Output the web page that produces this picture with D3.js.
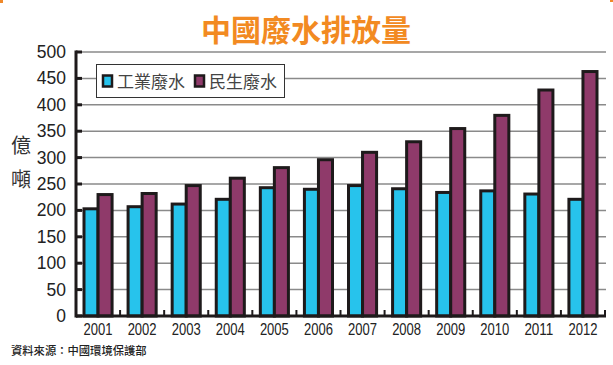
<!DOCTYPE html>
<html>
<head>
<meta charset="utf-8">
<script src="https://cdn.jsdelivr.net/npm/d3@7"></script>
<style>
  body { margin: 0; background: #fff; }
  svg { display: block; }
</style>
</head>
<body>
<div id="chart"></div>
<script>
// data (億噸)
const years = ["2001", "2002", "2003", "2004", "2005", "2006", "2007", "2008", "2009", "2010", "2011", "2012"];
const seriesNames = ["工業廢水", "民生廢水"];
const industrial = [203, 207, 212, 221, 243, 240, 247, 241, 234, 237, 231, 221];
const domestic = [230, 232, 247, 261, 281, 296, 310, 330, 355, 380, 428, 463];
const yTicks = [0, 50, 100, 150, 200, 250, 300, 350, 400, 450, 500];
const colors = ["#27c3ec", "#8f3a6a"];

const width = 613, height = 365;
const plotLeft = 76, plotRight = 605, plotTop = 52, plotBottom = 316;

const svg = d3.select("#chart")
    .append("svg")
    .attr("width", width)
    .attr("height", height);

// corner bits of the orange frame
svg.append("rect").attr("x", 0).attr("y", 0).attr("width", 3).attr("height", 3).attr("fill", "#f0892a");
svg.append("rect").attr("x", 610).attr("y", 0).attr("width", 3).attr("height", 2).attr("fill", "#f0892a");

// title
svg.append("text")
    .attr("x", 306)
    .attr("y", 41)
    .attr("text-anchor", "middle")
    .attr("font-family", "'Noto Sans CJK TC', 'Noto Sans CJK SC', sans-serif")
    .attr("font-weight", "bold")
    .attr("font-size", 30)
    .attr("fill", "#f28a22")
    .text("中國廢水排放量");

const x0 = d3.scaleBand().domain(years).range([plotLeft, plotRight]).padding(0);
const x1 = d3.scaleBand().domain(seriesNames).range([8, x0.bandwidth() - 8]);
const y = d3.scaleLinear().domain([0, 500]).range([plotBottom, plotTop]);

// gridlines
svg.append("g")
    .selectAll("line")
    .data(yTicks.filter(d => d > 0))
    .join("line")
    .attr("x1", plotLeft)
    .attr("x2", plotRight + 1)
    .attr("y1", d => y(d))
    .attr("y2", d => y(d))
    .attr("stroke", "#8a8a8a")
    .attr("stroke-width", 1.5);

// y labels
svg.append("g")
    .selectAll("text")
    .data(yTicks)
    .join("text")
    .attr("x", 66)
    .attr("y", d => y(d) + 6)
    .attr("text-anchor", "end")
    .attr("font-family", "'Liberation Sans', Arial, sans-serif")
    .attr("font-size", 17.5)
    .attr("fill", "#222")
    .text(d => d);

// y ticks (stubs inside)
svg.append("g")
    .selectAll("line")
    .data(yTicks)
    .join("line")
    .attr("x1", plotLeft)
    .attr("x2", plotLeft + 6)
    .attr("y1", d => y(d))
    .attr("y2", d => y(d))
    .attr("stroke", "#1e1a1b")
    .attr("stroke-width", 3);

// bars
const groups = svg.append("g")
    .selectAll("g")
    .data(years)
    .join("g")
    .attr("transform", d => "translate(" + x0(d) + ",0)");

groups.selectAll("rect")
    .data((d, i) => [industrial[i], domestic[i]].map((v, j) => ({ s: seriesNames[j], v: v, j: j })))
    .join("rect")
    .attr("x", d => x1(d.s))
    .attr("y", d => y(d.v))
    .attr("width", x1.bandwidth())
    .attr("height", d => plotBottom - y(d.v))
    .attr("fill", d => colors[d.j])
    .attr("stroke", "#1e1a1b")
    .attr("stroke-width", 3);

// axes lines
svg.append("line")
    .attr("x1", plotLeft).attr("x2", plotLeft)
    .attr("y1", plotTop - 1.5).attr("y2", plotBottom + 1.5)
    .attr("stroke", "#1e1a1b").attr("stroke-width", 3);
svg.append("line")
    .attr("x1", plotLeft).attr("x2", plotRight + 1)
    .attr("y1", plotBottom).attr("y2", plotBottom)
    .attr("stroke", "#1e1a1b").attr("stroke-width", 3);

// x ticks at category boundaries
svg.append("g")
    .selectAll("line")
    .data(years)
    .join("line")
    .attr("x1", d => x0(d) + x0.bandwidth())
    .attr("x2", d => x0(d) + x0.bandwidth())
    .attr("y1", plotBottom)
    .attr("y2", plotBottom - 6)
    .attr("stroke", "#1e1a1b")
    .attr("stroke-width", 2);

// x labels
svg.append("g")
    .selectAll("text")
    .data(years)
    .join("text")
    .attr("x", d => x0(d) + x0.bandwidth() / 2)
    .attr("y", 335)
    .attr("text-anchor", "middle")
    .attr("font-family", "'Liberation Sans', Arial, sans-serif")
    .attr("font-size", 17)
    .attr("fill", "#222")
    .attr("textLength", 29)
    .attr("lengthAdjust", "spacingAndGlyphs")
    .text(d => d);

// y axis title
svg.append("g")
    .selectAll("text")
    .data(["億", "噸"])
    .join("text")
    .attr("x", 21)
    .attr("y", (d, i) => 153 + i * 34)
    .attr("text-anchor", "middle")
    .attr("font-family", "'Noto Sans CJK TC', sans-serif")
    .attr("font-size", 20)
    .attr("fill", "#333")
    .text(d => d);

// legend
const legend = svg.append("g");
legend.append("rect")
    .attr("x", 96.5).attr("y", 64.5)
    .attr("width", 188).attr("height", 33)
    .attr("fill", "#fff")
    .attr("stroke", "#333")
    .attr("stroke-width", 1);
const legendX = [103, 195];
seriesNames.forEach((name, i) => {
    legend.append("rect")
        .attr("x", legendX[i]).attr("y", 75.5)
        .attr("width", 9).attr("height", 11)
        .attr("fill", colors[i])
        .attr("stroke", "#1e1a1b")
        .attr("stroke-width", 2.5);
    legend.append("text")
        .attr("x", legendX[i] + 14)
        .attr("y", 88)
        .attr("font-family", "'Noto Sans CJK TC', sans-serif")
        .attr("font-size", 17)
        .attr("fill", "#444")
        .text(name);
});

// source
svg.append("text")
    .attr("x", 11)
    .attr("y", 355)
    .attr("font-family", "'Noto Sans CJK TC', sans-serif")
    .attr("font-size", 11.3)
    .attr("font-weight", 500)
    .attr("fill", "#222")
    .text("資料來源：中國環境保護部");
</script>
</body>
</html>
